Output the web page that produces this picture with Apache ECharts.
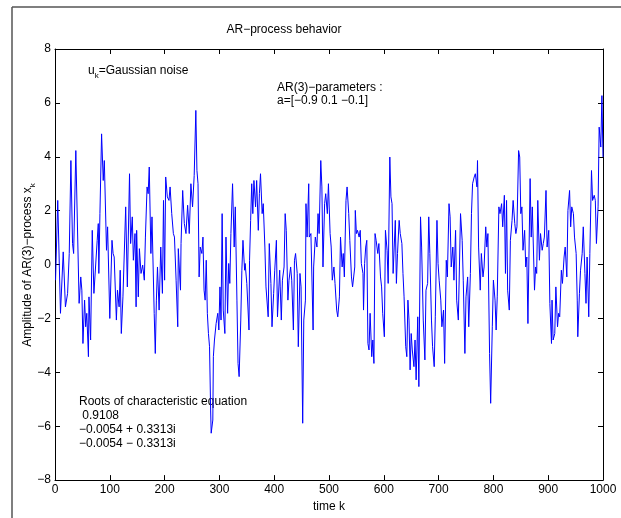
<!DOCTYPE html>
<html>
<head>
<meta charset="utf-8">
<script src="https://cdn.jsdelivr.net/npm/echarts@6/dist/echarts.min.js"></script>
<style>
html,body{margin:0;padding:0;background:#fff;}
#chart{width:621px;height:518px;}
</style>
</head>
<body>
<div id="chart"></div>
<script>
const timeK = [1,5,10,15,19,23,26,29,32,34,38,44,47,49,51,54,56,58,61,62,65,68,71,77,79,80,82,85,88,90,94,96,100,104,106,108,112,114,117,119,121,124,
129,132,136,138,141,143,146,148,149,152,154,157,160,163,165,168,170,172,175,177,181,183,185,187,190,193,196,198,200,202,205,208,210,213,216,218,221,224,225,229,230,233,236,239,242,245,248,251,254,257,259,261,263,265,268,270,272,
274,276,278,280,282,284,285,288,289,291,294,297,299,301,303,305,307,310,312,315,317,319,321,324,327,329,332,334,336,339,341,343,346,347,350,354,355,357,359,361,363,366,368,371,373,375,378,380,383,385,389,391,394,396,399,401,404,406,410,
411,413,415,418,420,422,425,427,430,432,435,437,439,442,444,447,449,452,454,457,458,460,463,464,467,471,472,475,478,480,482,485,487,489,492,494,497,499,502,504,506,509,511,514,516,519,521,524,526,528,531,533,536,538,541,543,547,
548,550,552,555,557,559,562,563,565,567,569,571,573,575,578,580,582,584,586,589,591,594,596,598,601,603,606,608,611,613,615,617,619,621,623,625,628,630,633,635,637,640,642,644,646,648,650,652,655,657,659,662,664,667,669,672,675,
677,680,682,684,687,689,692,694,697,699,701,704,706,709,711,714,716,719,721,723,726,728,731,733,736,738,740,743,745,748,750,753,755,758,760,762,765,767,770,771,773,776,778,781,783,786,788,790,793,795,798,800,803,805,807,810,812,815,817,820,
822,824,826,829,831,834,836,839,841,843,846,848,850,852,854,857,859,861,863,867,869,871,875,877,879,881,884,886,889,891,893,896,898,901,903,906,907,909,912,914,917,919,921,924,926,929,931,934,936,939,941,943,946,948,951,953,954,957,959,962,964,967,969,971,974,976,979,981,984,986,988,991,993,996,998,1000];

const amplitude = [-0.58,2.38,-1.81,0.47,-1.57,-1.07,0.41,3.86,0.78,0.41,4.23,-1.44,-0.46,-0.95,-2.93,-1.32,-2.31,-1.81,-3.42,-1.20,-2.80,1.27,-1.07,0.90,1.52,-0.33,1.89,4.85,3.12,3.86,0.53,1.40,-2.00,0.90,0.41,0.28,-2.06,-0.95,-1.57,-0.21,-2.56,-1.20,
2.14,-0.83,3.37,0.78,1.77,0.16,1.15,-1.57,1.27,-1.20,0.59,-0.33,-0.02,-0.58,1.02,2.88,2.63,3.62,0.41,1.77,-1.81,-3.30,-1.32,-0.09,-1.69,0.65,-1.07,2.38,-0.58,3.25,2.51,2.38,2.88,1.89,1.15,1.02,-0.58,-2.31,0.59,-0.95,0.78,2.75,1.52,1.15,2.20,1.15,3.00,2.14,3.31,5.72,3.49,3.00,-0.46,0.65,0.41,1.02,-0.95,
-1.32,0.16,-1.81,-2.56,-3.05,-5.40,-6.26,-5.77,-3.42,-2.80,-2.19,-1.81,-2.43,-0.83,-2.06,1.89,-1.69,-2.56,1.02,-1.81,0.04,-0.70,1.15,3.00,0.65,2.14,-1.32,-3.67,-4.16,-2.06,-0.21,0.90,-0.21,0.04,-0.70,-2.43,0.16,1.64,3.00,1.89,3.12,2.14,3.12,1.27,2.63,3.37,1.89,2.26,0.65,-0.83,-1.94,0.78,-0.70,-2.31,-1.07,-0.21,0.90,-1.94,-0.21,
-0.83,-2.06,-0.58,-0.09,1.89,1.27,-1.32,-0.58,-0.09,-0.58,-2.43,0.16,0.41,-0.33,-3.05,-0.33,-0.83,-5.89,-2.06,-1.32,2.26,1.02,3.00,1.02,1.15,-2.43,-0.09,1.02,0.65,1.89,1.15,3.86,2.88,-0.09,2.26,2.63,1.89,3.00,1.15,0.65,-0.58,-0.09,-0.70,-1.69,-1.94,-1.20,1.02,-0.09,0.41,-0.46,2.38,2.88,1.89,0.90,-0.46,-0.83,-0.09,
2.01,1.15,1.27,1.02,1.27,0.04,-0.33,-1.69,0.04,0.65,0.90,-2.93,-3.17,-1.81,-3.42,-2.80,-3.67,1.15,0.90,0.41,0.78,-0.46,-0.83,-1.81,-2.68,1.27,0.53,-0.70,3.99,2.51,2.26,-0.33,0.65,1.64,-0.70,0.41,1.64,1.15,0.78,-0.33,-1.20,-3.05,-3.42,-1.32,-2.06,-3.91,-2.56,-3.17,-3.79,-2.80,-4.28,-1.94,-4.53,1.77,0.65,-2.06,-3.54,
-0.95,-0.70,1.77,0.41,-2.06,-3.05,-3.79,-1.94,1.64,0.04,-0.58,-1.32,-2.31,-1.69,-3.67,0.16,-0.46,2.26,1.77,-0.09,0.65,-0.58,1.27,-1.32,-2.06,-0.09,1.89,0.90,-0.58,-3.30,-1.20,-0.46,-2.31,-0.33,1.89,3.00,3.25,3.37,2.88,3.86,0.65,-0.95,0.41,-0.46,-0.09,1.40,0.65,1.15,-3.30,-5.15,-2.31,-0.58,-1.32,-2.43,-1.20,2.14,1.89,2.26,1.40,2.57,
-0.33,2.38,-0.95,-1.69,0.90,1.64,2.38,1.52,1.15,1.40,4.23,3.99,1.89,2.14,0.53,1.27,-0.09,0.28,-2.19,3.19,1.02,2.14,-0.95,-0.09,-0.33,2.38,0.16,1.15,0.53,0.78,1.02,2.75,0.65,1.27,-1.44,-2.93,-1.32,-2.80,-2.56,-0.83,-2.31,-1.81,-1.94,-0.21,-0.70,0.28,0.65,-0.46,2.01,2.75,1.40,2.14,1.89,1.02,0.41,-1.32,-2.68,-1.07,-0.21,0.41,1.40,-0.33,-1.44,0.28,-1.94,0.41,3.49,2.38,2.57,2.38,0.78,2.14,5.10,4.36,6.27,3.99];

const xTicks = [0,100,200,300,400,500,600,700,800,900,1000];
const yTicks = [-8,-6,-4,-2,0,2,4,6,8];

const titleText = 'AR\u2212process behavior';
const xName = 'time k';
const rootsLines = ['Roots of characteristic equation', ' 0.9108', '\u22120.0054 + 0.3313i', '\u22120.0054 \u2212 0.3313i'];
const paramLines = ['AR(3)\u2212parameters :', 'a=[\u22120.9 0.1 \u22120.1]'];

const FONT = '"Liberation Sans", Arial, Helvetica, sans-serif';
const FS = 12;
const fmt = v => String(v).replace('-', '\u2212');

const chart = echarts.init(document.getElementById('chart'), null, {renderer: 'canvas'});

const axisCommon = {
  axisLine: {show: true, onZero: false, lineStyle: {color: '#000', width: 1}},
  axisTick: {show: true, inside: true, length: 5, lineStyle: {color: '#000', width: 1}},
  splitLine: {show: false},
  axisLabel: {color: '#000', fontSize: FS, fontFamily: FONT, formatter: fmt}
};

const txt = (x, y, s) => ({type: 'text', x: x, y: y, style: {text: s, fill: '#000', font: FS + 'px ' + FONT, textVerticalAlign: 'middle'}});
const richSub = {a: {fill: '#000', fontSize: FS, fontFamily: FONT, verticalAlign: 'top', lineHeight: 15},
                 s: {fill: '#000', fontSize: 8, fontFamily: FONT, verticalAlign: 'bottom', lineHeight: 15, padding: [7,0,0,0]}};

const option = {
  animation: false,
  backgroundColor: '#fff',
  grid: {left: 55, right: 18, top: 49, bottom: 37, containLabel: false},
  xAxis: [
    Object.assign({}, axisCommon, {type: 'value', min: xTicks[0], max: xTicks[xTicks.length-1], interval: 100, position: 'bottom',
      axisLabel: Object.assign({}, axisCommon.axisLabel, {margin: 4}),
      name: xName, nameLocation: 'middle', nameGap: 20,
      nameTextStyle: {color: '#000', fontSize: FS, fontFamily: FONT}}),
    Object.assign({}, axisCommon, {type: 'value', min: xTicks[0], max: xTicks[xTicks.length-1], interval: 100, position: 'top',
      axisLabel: {show: false}})
  ],
  yAxis: [
    Object.assign({}, axisCommon, {type: 'value', min: yTicks[0], max: yTicks[yTicks.length-1], interval: 2, position: 'left',
      axisLabel: Object.assign({}, axisCommon.axisLabel, {margin: 4})}),
    Object.assign({}, axisCommon, {type: 'value', min: yTicks[0], max: yTicks[yTicks.length-1], interval: 2, position: 'right',
      axisLabel: {show: false}})
  ],
  series: [{
    type: 'line',
    xAxisIndex: 0, yAxisIndex: 0,
    data: timeK.map((k, i) => [k, amplitude[i]]),
    showSymbol: false,
    symbol: 'none',
    lineStyle: {color: '#0000ff', width: 1},
    clip: true
  }],
  graphic: [
    {type: 'line', shape: {x1: 12, y1: 7, x2: 621, y2: 7}, style: {stroke: '#555', lineWidth: 1.5}, silent: true},
    {type: 'line', shape: {x1: 12, y1: 7, x2: 12, y2: 518}, style: {stroke: '#555', lineWidth: 1.5}, silent: true},
    {type: 'text', x: 284, y: 30, style: {text: titleText, fill: '#000', font: FS + 'px ' + FONT, textAlign: 'center', textVerticalAlign: 'middle'}},
    {type: 'text', x: 88, y: 72, style: {text: '{a|u}{s|k}{a|=Gaussian noise}', textVerticalAlign: 'middle', rich: richSub}},
    txt(277, 88, paramLines[0]),
    txt(277, 101, paramLines[1]),
    txt(79, 402, rootsLines[0]),
    txt(79, 416, rootsLines[1]),
    txt(79, 430, rootsLines[2]),
    txt(79, 444, rootsLines[3]),
    {type: 'text', x: 29, y: 265, rotation: Math.PI / 2, style: {
      text: '{a|Amplitude of AR(3)\u2212process x}{s|k}',
      textAlign: 'center', textVerticalAlign: 'middle', rich: richSub
    }}
  ]
};
chart.setOption(option);
</script>
</body>
</html>
